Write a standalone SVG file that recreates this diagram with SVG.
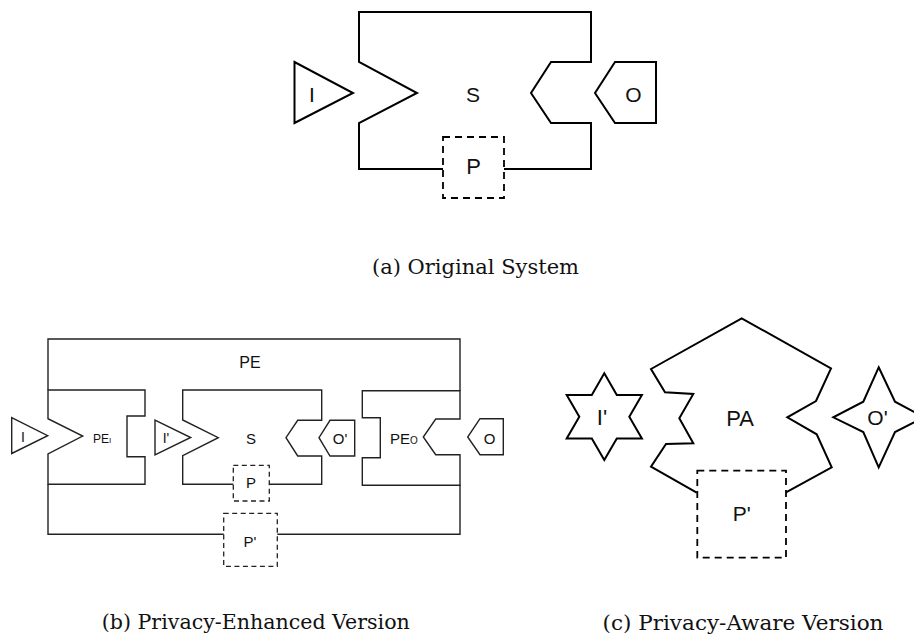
<svg xmlns="http://www.w3.org/2000/svg" width="914" height="640" viewBox="0 0 914 640">
<style>
.ln{fill:none;stroke:#000;stroke-width:2;stroke-linejoin:miter}
.lt{fill:none;stroke:#222;stroke-width:1.4}
.dash{fill:none;stroke:#000;stroke-width:1.8;stroke-dasharray:7,5}
.dasht{fill:none;stroke:#222;stroke-width:1.3;stroke-dasharray:5,3.5}
.t{font-family:"Liberation Sans",Arial,sans-serif;fill:#111;text-anchor:middle}
.cap{font-family:"DejaVu Serif","Liberation Serif",serif;fill:#111;text-anchor:middle;font-size:21px}
</style>
<rect width="914" height="640" fill="#fff"/>

<!-- (a) Original System -->
<g id="a-S">
<path class="ln" d="M443,169 L359,169 L359,123 L417,93 L359,62 L359,12 L591,12 L591,62 L551,62 L531,93 L551,123 L591,123 L591,169 L504,169"/>
<text class="t" x="473" y="101.5" font-size="21">S</text>
</g>
<g id="a-I">
<polygon class="ln" points="294.5,62 294.5,123 353,93"/>
<text class="t" x="312" y="101.5" font-size="21">I</text>
</g>
<g id="a-O">
<polygon class="ln" points="615,62 656,62 656,123 615,123 595,93"/>
<text class="t" x="633.5" y="101.5" font-size="21">O</text>
</g>
<g id="a-P">
<rect class="dash" x="443" y="137" width="61" height="61"/>
<text class="t" x="473.5" y="173.5" font-size="22">P</text>
</g>
<text class="cap" x="475.5" y="273.5" textLength="207" lengthAdjust="spacingAndGlyphs">(a)  Original System</text>

<!-- (b) Privacy-Enhanced Version -->
<g id="b-PE">
<path class="lt" d="M48,390 L48,339 L460,339 L460,391 M460,485 L460,534.3 L277.3,534.3 M223.7,534.3 L48,534.3 L48,484.3"/>
<text class="t" x="250" y="368" font-size="16">PE</text>
</g>
<g id="b-PEI">
<path class="lt" d="M48,390 L145,390 L145,416 L127,416 L127,456.7 L145,456.7 L145,484.3 L48,484.3 L48,454 L82.7,436 L48,418.7 Z"/>
<text x="93" y="442.5" font-family="Liberation Sans,Arial,sans-serif" font-size="12" fill="#111">PE<tspan font-size="8">I</tspan></text>
</g>
<g id="b-I">
<polygon class="lt" points="11.7,417.7 11.7,453.5 47.7,435.7"/>
<text class="t" x="23" y="442" font-size="14">I</text>
</g>
<g id="b-Ip">
<polygon class="lt" points="155,420 155,455 190.7,437.5"/>
<text class="t" x="166" y="443" font-size="14">I'</text>
</g>
<g id="b-S">
<path class="lt" d="M233.3,484.3 L182.7,484.3 L182.7,455.7 L218.3,437.7 L182.7,420 L182.7,390 L321.7,390 L321.7,420.3 L297.7,420.3 L286,437.7 L297.7,456 L321.7,456 L321.7,484.3 L269.3,484.3"/>
<text class="t" x="251" y="444" font-size="15">S</text>
</g>
<g id="b-P">
<rect class="dasht" x="233.3" y="465.3" width="36" height="35.7"/>
<text class="t" x="251" y="487.7" font-size="15">P</text>
</g>
<g id="b-Op">
<polygon class="lt" points="330,420.3 354.7,420.3 354.7,456 330,456 319,437.7"/>
<text class="t" x="340" y="444" font-size="15">O'</text>
</g>
<g id="b-PEO">
<path class="lt" d="M460,390.7 L362.3,390.7 L362.3,417.7 L380.3,417.7 L380.3,457.7 L362.3,457.7 L362.3,485.3 L460,485.3 L460,454.7 L435.7,454.7 L423.3,437 L435.7,419 L460,419 Z"/>
<text x="390" y="444.3" font-family="Liberation Sans,Arial,sans-serif" font-size="15" fill="#111">PE<tspan font-size="10">O</tspan></text>
</g>
<g id="b-O">
<polygon class="lt" points="480,418.7 503.3,418.7 503.3,454.7 480,454.7 467.7,437"/>
<text class="t" x="489.5" y="444" font-size="15">O</text>
</g>
<g id="b-Pp">
<rect class="dasht" x="223.7" y="513.3" width="53.6" height="53"/>
<text class="t" x="250" y="547" font-size="15">P'</text>
</g>
<text class="cap" x="255.8" y="628.5" textLength="308" lengthAdjust="spacingAndGlyphs">(b)  Privacy-Enhanced Version</text>

<!-- (c) Privacy-Aware Version -->
<g id="c-PA">
<path class="ln" d="M696.7,492.7 L651,466.7 L666,444 L693.3,443.3 L679.3,418.3 L693.3,394 L665,392.3 L651,369 L741.7,318.3 L831,368.3 L816,401 L787.3,417.3 L816.7,434.3 L831.7,467.3 L786,492.3"/>
<text class="t" x="740" y="426" font-size="22">PA</text>
</g>
<g id="c-Pp">
<rect class="dash" x="697.3" y="470.7" width="88.7" height="87"/>
<text class="t" x="741.7" y="521" font-size="21">P'</text>
</g>
<g id="c-Ip">
<polygon class="ln" points="604.3,373.3 616.8,395 641.9,395 629.3,416.7 641.9,438.4 616.8,438.4 604.3,460.1 591.8,438.4 566.7,438.4 579.3,416.7 566.7,395 591.8,395"/>
<text class="t" x="602" y="425" font-size="22">I'</text>
</g>
<g id="c-Op">
<polygon class="ln" points="878.7,367.3 895,401.7 924,417.3 895,432 878.7,467.3 863.3,432 833.3,417.3 863.3,401.7"/>
<text class="t" x="877.5" y="424.5" font-size="21">O'</text>
</g>
<text class="cap" x="743" y="630" textLength="281" lengthAdjust="spacingAndGlyphs">(c)  Privacy-Aware Version</text>
</svg>
